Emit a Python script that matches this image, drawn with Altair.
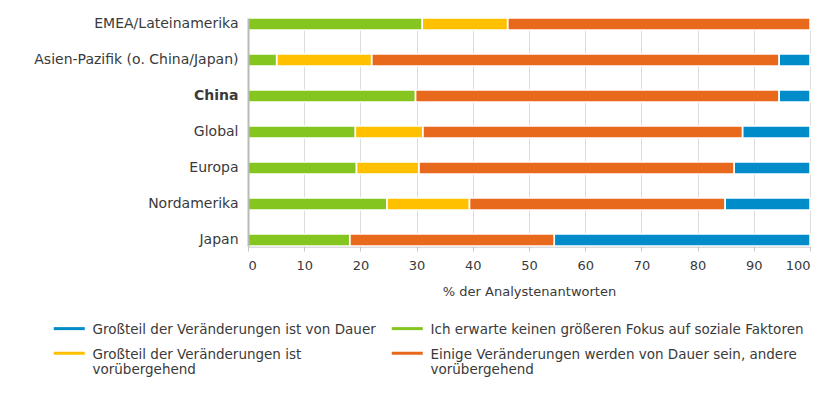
import altair as alt
import pandas as pd

regions = ["EMEA/Lateinamerika", "Asien-Pazifik (o. China/Japan)", "China",
           "Global", "Europa", "Nordamerika", "Japan"]
kein_fokus = [31.0, 5.1, 29.8, 19.1, 19.3, 24.7, 18.1]
voruebergehend = [15.2, 16.9, 0.0, 12.0, 11.1, 14.7, 0.0]
einige = [53.8, 72.5, 64.7, 56.9, 56.1, 45.5, 36.4]
dauer = [0.0, 5.5, 5.5, 12.0, 13.5, 15.1, 45.5]

# legend order (column-major in a 2-column legend)
categories = ["Großteil der Veränderungen ist von Dauer",
              "Großteil der Veränderungen ist vorübergehend",
              "Ich erwarte keinen größeren Fokus auf soziale Faktoren",
              "Einige Veränderungen werden von Dauer sein, andere vorübergehend"]
colors = ["#008BC9", "#FFC000", "#84C51F", "#E8691C"]
x_ticks = [0, 10, 20, 30, 40, 50, 60, 70, 80, 90, 100]

series = [(categories[2], kein_fokus, 0), (categories[1], voruebergehend, 1),
          (categories[3], einige, 2), (categories[0], dauer, 3)]
rows = []
for cat, vals, order in series:
    for r, v in zip(regions, vals):
        if v > 0:
            rows.append({"region": r, "cat": cat, "value": v, "order": order})
df = pd.DataFrame(rows)

FONT = "DejaVu Sans"
TXT = "#3a3a3a"

label_expr = (
    "datum.label == 'Großteil der Veränderungen ist vorübergehend' ? "
    "['Großteil der Veränderungen ist', 'vorübergehend'] : "
    "datum.label == 'Einige Veränderungen werden von Dauer sein, andere vorübergehend' ? "
    "['Einige Veränderungen werden von Dauer sein, andere', 'vorübergehend'] : datum.label"
)

legend = alt.Legend(title=None, orient="none", legendX=-196, legendY=298,
                    columns=2, symbolType="M-1,1.1L5.2,1.1", symbolSize=100,
                    symbolStrokeWidth=3, labelFontSize=13.5, labelFont=FONT,
                    labelColor=TXT, labelExpr=label_expr, columnPadding=9,
                    rowPadding=4, labelOffset=27, labelLimit=500,
                    labelBaseline="top")

x_enc = alt.X("value:Q", stack="zero",
              scale=alt.Scale(domain=[0, 100], nice=False),
              axis=alt.Axis(values=x_ticks, title="% der Analystenantworten",
                            grid=True, gridColor="#dcdcdc", gridWidth=1,
                            domainColor="#b8b8b8", domainWidth=2,
                            tickColor="#c8c8c8", tickSize=5,
                            labelFontSize=13, labelFont=FONT, labelColor=TXT,
                            labelPadding=8, titleFontSize=13, titleFont=FONT,
                            titleFontWeight="normal", titleColor=TXT,
                            titlePadding=13))
y_enc = alt.Y("region:N", sort=regions,
              scale=alt.Scale(paddingInner=2 / 3, paddingOuter=0),
              axis=alt.Axis(title=None, ticks=False, domainColor="#b8b8b8",
                            domainWidth=2, labelFontSize=14, labelFont=FONT,
                            labelColor=TXT, labelPadding=10, labelLimit=300,
                            zindex=1,
                            labelFontWeight={"condition": {"test": "datum.value == 'China'", "value": "bold"},
                                             "value": "normal"}))

bars = alt.Chart(df).mark_bar(strokeWidth=0.01).encode(
    x=x_enc,
    y=y_enc,
    color=alt.Color("cat:N", scale=alt.Scale(domain=categories, range=colors), legend=legend),
    stroke=alt.Stroke("cat:N", scale=alt.Scale(domain=categories, range=colors), legend=legend),
    order=alt.Order("order:Q"),
)

sep = alt.Chart(df).mark_bar(fillOpacity=0, stroke="white", strokeWidth=1.5).encode(
    x=alt.X("value:Q", stack="zero"),
    y=alt.Y("region:N", sort=regions),
    order=alt.Order("order:Q"),
)

chart = alt.layer(bars, sep).properties(
    width=562, height=228,
    autosize=alt.AutoSizeParams(type="none"),
    padding={"left": 240, "top": 10, "right": 17, "bottom": 141},
).configure_view(stroke=None)

chart.save("out.html", embed_options={"renderer": "svg", "actions": False})
